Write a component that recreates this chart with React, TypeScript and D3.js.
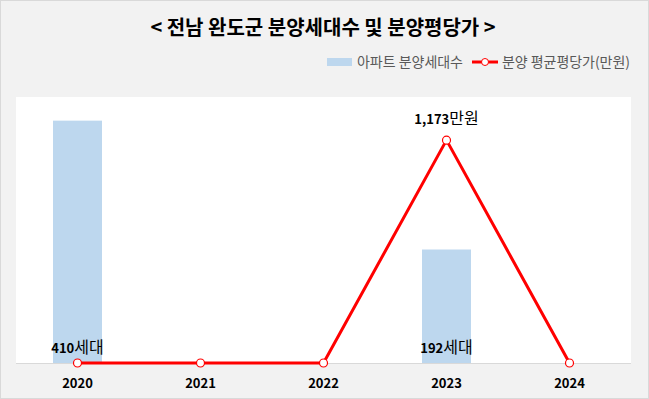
import React from "react";
import * as d3 from "d3";

const years = ["2020", "2021", "2022", "2023", "2024"];
const units = [410, 0, 0, 192, 0];
const unitLabels = ["410세대", "", "", "192세대", ""];
const prices = [0, 0, 0, 1173, 0];
const priceLabels = ["", "", "", "1,173만원", ""];

const W = 649;
const H = 399;
const plot = { left: 16, right: 631, top: 97, bottom: 363 };
const FONT = "'Noto Sans CJK KR', 'Noto Sans', sans-serif";

export default function App() {
  const xc = d3.scalePoint<string>().domain(years).range([plot.left, plot.right]).padding(0.5);
  const yBar = d3.scaleLinear().domain([0, 450]).range([plot.bottom, plot.top]);
  const yLine = d3.scaleLinear().domain([0, 1400]).range([plot.bottom, plot.top]);
  const barW = 49;
  const line = d3
    .line<number>()
    .x((_, i) => xc(years[i]) as number)
    .y((d) => yLine(d));

  return (
    <div style={{ position: "fixed", left: 0, top: 0 }}>
      <svg width={W} height={H} style={{ display: "block" }}>
        <rect x={0.5} y={0.5} width={W - 1} height={H - 1} fill="#f2f2f2" stroke="#d9d9d9" />
        <text x={323} y={35} textAnchor="middle" fontFamily={FONT} fontWeight={700} fontSize={20} fill="#000">
          {"< 전남 완도군 분양세대수 및 분양평당가 >"}
        </text>
        {/* legend */}
        <g fontFamily={FONT} fontSize={14} fill="#595959">
          <rect x={327} y={58} width={25} height={8} fill="#bdd7ee" />
          <text x={357} y={67} textLength={106}>아파트 분양세대수</text>
          <line x1={472} x2={498} y1={62} y2={62} stroke="#ff0000" strokeWidth={3} />
          <circle cx={485} cy={62} r={3.5} fill="#fff" stroke="#ff0000" strokeWidth={1} />
          <text x={502} y={67} textLength={128}>분양 평균평당가(만원)</text>
        </g>
        <rect x={plot.left} y={plot.top} width={plot.right - plot.left} height={plot.bottom - plot.top} fill="#ffffff" />
        {years.map((yr, i) =>
          units[i] > 0 ? (
            <rect
              key={"b" + yr}
              x={(xc(yr) as number) - barW / 2}
              y={yBar(units[i])}
              width={barW}
              height={plot.bottom - yBar(units[i])}
              fill="#bdd7ee"
            />
          ) : null
        )}
        <line x1={plot.left} x2={plot.right} y1={plot.bottom + 0.5} y2={plot.bottom + 0.5} stroke="#d9d9d9" />
        <path d={line(prices) || ""} fill="none" stroke="#ff0000" strokeWidth={3} strokeLinejoin="round" />
        {years.map((yr, i) => (
          <circle key={"m" + yr} cx={xc(yr) as number} cy={yLine(prices[i])} r={4} fill="#fff" stroke="#ff0000" strokeWidth={1.2} />
        ))}
        {years.map((yr, i) =>
          unitLabels[i] ? (
            <text key={"ul" + yr} x={xc(yr) as number} y={353} textAnchor="middle" fontFamily={FONT} fontSize={16} fill="#000">
              <tspan fontWeight={700} fontSize={13}>{unitLabels[i].replace("세대", "")}</tspan>
              <tspan>세대</tspan>
            </text>
          ) : null
        )}
        {years.map((yr, i) =>
          priceLabels[i] ? (
            <text key={"pl" + yr} x={xc(yr) as number} y={yLine(prices[i]) - 16} textAnchor="middle" fontFamily={FONT} fontSize={16} fill="#000">
              <tspan fontWeight={700} fontSize={13}>{priceLabels[i].replace("만원", "")}</tspan>
              <tspan>만원</tspan>
            </text>
          ) : null
        )}
        {years.map((yr) => (
          <text key={"x" + yr} x={xc(yr) as number} y={388} textAnchor="middle" fontFamily={FONT} fontWeight={700} fontSize={13} fill="#000">
            {yr}
          </text>
        ))}
      </svg>
    </div>
  );
}
